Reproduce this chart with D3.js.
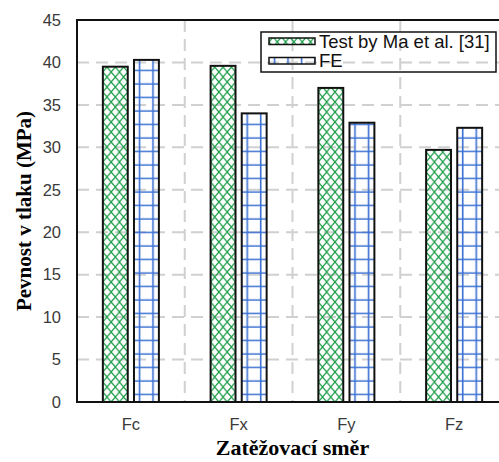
<!DOCTYPE html>
<html><head><meta charset="utf-8">
<script src="https://cdn.jsdelivr.net/npm/d3@7/dist/d3.min.js"></script>
<style>body{margin:0;background:#fff;}svg{display:block;}</style>
</head><body>
<script>
const categories = ["Fc", "Fx", "Fy", "Fz"];
const seriesNames = ["Test by Ma et al. [31]", "FE"];
const testValues = [39.5, 39.6, 37.0, 29.7];
const feValues = [40.3, 34.0, 32.9, 32.3];
const yTicks = [0, 5, 10, 15, 20, 25, 30, 35, 40, 45];

const W = 499, H = 462;
const m = {left: 77, top: 20};
const pw = 431, ph = 382;

const svg = d3.select("body").append("svg").attr("width", W).attr("height", H);
const defs = svg.append("defs");

const x0 = d3.scaleBand().domain(categories).range([m.left, m.left + pw]).paddingInner(0.48).paddingOuter(0.24);
const x1 = d3.scaleBand().domain(seriesNames).range([0, x0.bandwidth()]).paddingInner(0.2);
const y = d3.scaleLinear().domain([0, 45]).range([m.top + ph, m.top]);

const green = "#1f9e4a", blue = "#3a6fd2";

function greenPattern(id, ox) {
  const p = defs.append("pattern").attr("id", id).attr("patternUnits", "userSpaceOnUse")
    .attr("width", 8.3).attr("height", 10).attr("x", ox).attr("y", m.top + ph);
  p.append("path").attr("d", "M0,0L8.3,10M8.3,0L0,10").attr("stroke", green).attr("stroke-width", 1.3).attr("fill", "none");
}
function bluePattern(id, ox) {
  const p = defs.append("pattern").attr("id", id).attr("patternUnits", "userSpaceOnUse")
    .attr("width", 13.5).attr("height", 13.5).attr("x", ox).attr("y", m.top + ph);
  p.append("path").attr("d", "M5.5,0V13.5M0,6H13.5").attr("stroke", blue).attr("stroke-width", 1.6).attr("fill", "none");
}

// grid
const grid = svg.append("g").attr("stroke", "#d0d0d0").attr("stroke-width", 2).attr("stroke-dasharray", "12,7");
grid.selectAll("line.h").data(yTicks.filter(t => t > 0 && t < 45)).join("line")
  .attr("x1", m.left).attr("x2", m.left + pw).attr("y1", d => y(d)).attr("y2", d => y(d));
grid.selectAll("line.v").data(categories.slice(1)).join("line")
  .attr("x1", d => x0(d) - x0.step() * 0.24).attr("x2", d => x0(d) - x0.step() * 0.24)
  .attr("y1", m.top).attr("y2", m.top + ph);

// bars
const data = [];
categories.forEach((c, i) => {
  data.push({c, s: seriesNames[0], v: testValues[i], k: 0, i});
  data.push({c, s: seriesNames[1], v: feValues[i], k: 1, i});
});
data.forEach(d => {
  const bx = x0(d.c) + x1(d.s);
  d.pid = "p" + d.k + "_" + d.i;
  if (d.k === 0) greenPattern(d.pid, bx); else bluePattern(d.pid, bx);
});
svg.append("g").selectAll("rect").data(data).join("rect")
  .attr("x", d => x0(d.c) + x1(d.s)).attr("width", x1.bandwidth())
  .attr("y", d => y(d.v)).attr("height", d => y(0) - y(d.v))
  .attr("fill", d => `url(#${d.pid})`).attr("stroke", "#111").attr("stroke-width", 2);

// frame
svg.append("rect").attr("x", m.left).attr("y", m.top).attr("width", pw).attr("height", ph)
  .attr("fill", "none").attr("stroke", "#111").attr("stroke-width", 2);

// axes
const yAxis = svg.append("g").attr("transform", `translate(${m.left},0)`)
  .call(d3.axisLeft(y).tickValues(yTicks).tickSize(0).tickPadding(16));
yAxis.select(".domain").remove();
yAxis.selectAll("text").attr("font-family", "Liberation Sans, Arial, sans-serif").attr("font-size", 16.5).attr("fill", "#3a3a3a");

const xAxis = svg.append("g").attr("transform", `translate(0,${m.top + ph})`)
  .call(d3.axisBottom(x0).tickSize(0).tickPadding(16));
xAxis.select(".domain").remove();
xAxis.selectAll("text").attr("font-family", "Liberation Sans, Arial, sans-serif").attr("font-size", 16.5).attr("fill", "#3a3a3a");

// titles
svg.append("text").attr("x", m.left + pw / 2).attr("y", 455).attr("text-anchor", "middle")
  .attr("font-family", "Liberation Serif, Times New Roman, serif").attr("font-weight", "bold").attr("font-size", 22)
  .text("Zatěžovací směr");
svg.append("text").attr("transform", `translate(31,${m.top + ph / 2}) rotate(-90)`).attr("text-anchor", "middle")
  .attr("font-family", "Liberation Serif, Times New Roman, serif").attr("font-weight", "bold").attr("font-size", 21)
  .text("Pevnost v tlaku (MPa)");

// legend
const lg = svg.append("g");
lg.append("rect").attr("x", 261).attr("y", 32).attr("width", 235).attr("height", 40)
  .attr("fill", "none").attr("stroke", "#111").attr("stroke-width", 1.5);
greenPattern("lg0", 269); bluePattern("lg1", 269);
seriesNames.forEach((s, k) => {
  const yy = 38 + k * 19.5;
  lg.append("rect").attr("x", 269).attr("y", yy).attr("width", 46).attr("height", 6.5)
    .attr("fill", `url(#lg${k})`).attr("stroke", "#111").attr("stroke-width", 1.5);
  lg.append("text").attr("x", 319).attr("y", yy + 9.5).attr("font-family", "Liberation Sans, Arial, sans-serif")
    .attr("font-size", 18.5).attr("fill", "#111").text(s);
});
</script>
</body></html>
